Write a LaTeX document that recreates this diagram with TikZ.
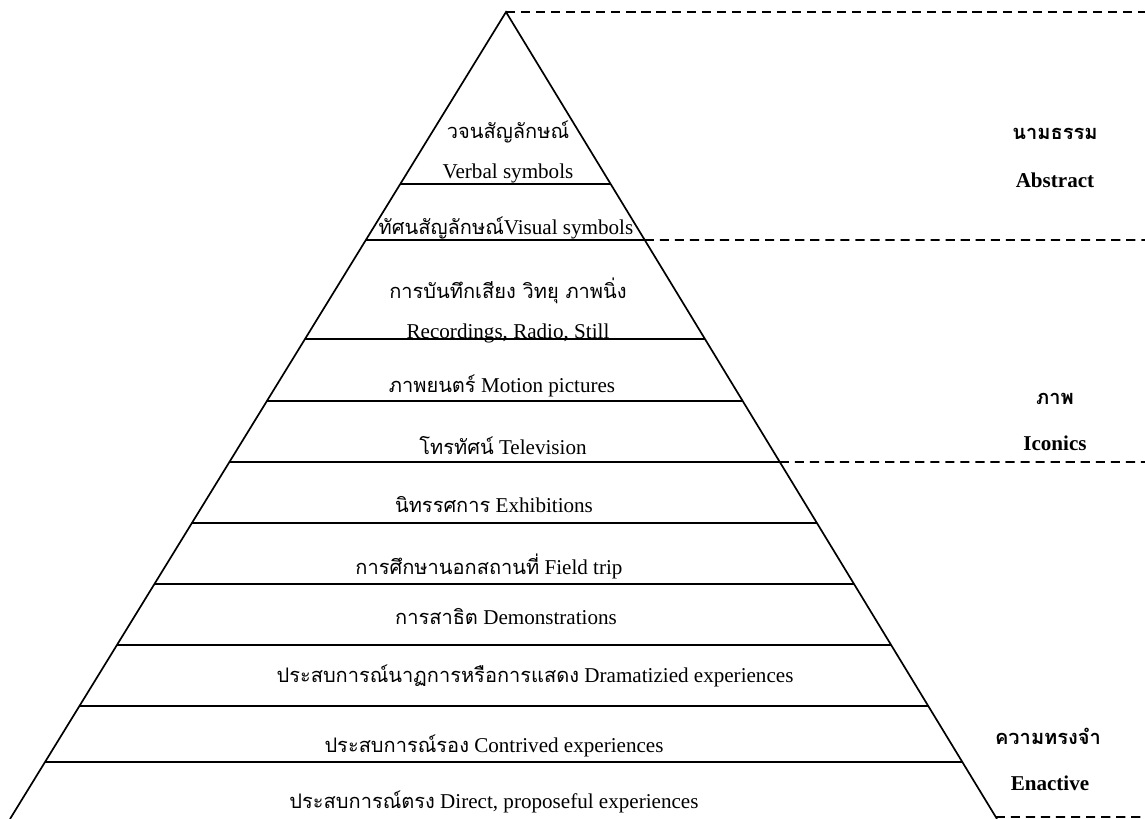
\documentclass[tikz,border=0pt]{standalone}
\usepackage{fontspec}
\setmainfont{Liberation Serif}
\newfontfamily\thaifont[Script=Thai,Scale=0.95]{Loma}
\newcommand{\thai}[1]{{\thaifont #1}}
\usepackage{tikz}
\usetikzlibrary{calc}

\begin{document}
\begin{tikzpicture}[
  x=0.025cm, y=-0.025cm,
  every node/.style = {font=\fontsize{15}{18}\selectfont, inner sep=1pt},
  tier/.style  = {line width=1.2pt},
  guide/.style = {line width=1.2pt, dash pattern=on 6.5pt off 4.2pt},
  side/.style  = {font=\fontsize{15}{18}\selectfont\bfseries}
]
\useasboundingbox (0,0) rectangle (1145,819);

% pyramid outline
\coordinate (apex) at (506,12);
\coordinate (bl)   at (10,819);
\coordinate (br)   at (997,819);
\draw[tier] (bl) -- (apex) -- (br);

% horizontal tiers
\foreach \y in {184,240,339,401,462,523,584,645,706,762} {
  \pgfmathsetmacro\t{(\y-12)/807}
  \draw[tier] ($(apex)!\t!(bl)$) -- ($(apex)!\t!(br)$);
}

% dashed group borders
\draw[guide] (apex) -- (1145,12);
\foreach \y in {240,462,817} {
  \pgfmathsetmacro\t{(\y-12)/807}
  \draw[guide] ($(apex)!\t!(br)$) -- (1145,\y);
}

% tier labels
\node (verbth)  at (508,132) {\thai{วจนสัญลักษณ์}};
\node (verb)    at (508,173) {Verbal symbols};
\node (visual)  at (506,228) {\thai{ทัศนสัญลักษณ์}Visual symbols};
\node (recth)   at (508,291) {\thai{การบันทึกเสียง วิทยุ ภาพนิ่ง}};
\node (rec)     at (508,333) {Recordings, Radio, Still};
\node (motion)  at (502,386) {\thai{ภาพยนตร์} Motion pictures};
\node (tv)      at (503,446) {\thai{โทรทัศน์} Television};
\node (exhib)   at (494,505) {\thai{นิทรรศการ} Exhibitions};
\node (field)   at (489,566) {\thai{การศึกษานอกสถานที่} Field trip};
\node (demo)    at (506,617) {\thai{การสาธิต} Demonstrations};
\node (drama)   at (535,676) {\thai{ประสบการณ์นาฏการหรือการแสดง} Dramatizied experiences};
\node (contr)   at (494,746) {\thai{ประสบการณ์รอง} Contrived experiences};
\node (direct)  at (494,802) {\thai{ประสบการณ์ตรง} Direct, proposeful experiences};

% group labels
\node[side] (absth)  at (1055,134) {\thai{นามธรรม}};
\node[side] (abs)    at (1055,180) {Abstract};
\node[side] (iconth) at (1055,399) {\thai{ภาพ}};
\node[side] (icon)   at (1055,443) {Iconics};
\node[side] (enacth) at (1048,736) {\thai{ความทรงจำ}};
\node[side] (enac)   at (1050,783) {Enactive};

\end{tikzpicture}
\end{document}
